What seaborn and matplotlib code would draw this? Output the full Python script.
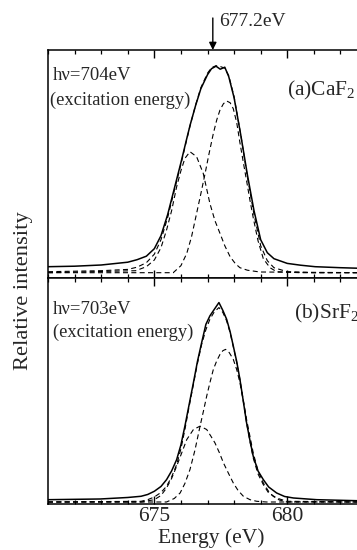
import numpy as np
import pandas as pd
import matplotlib
matplotlib.use("Agg")
import matplotlib.pyplot as plt
import seaborn as sns

# ---------------- data (arbitrary intensity units) ----------------
# (a) CaF2, hv = 704 eV
ca_meas_e = [671.0, 672.0, 673.0, 674.0, 674.35, 674.7, 675.0, 675.25, 675.5, 675.75, 676.0,
             676.2, 676.35, 676.55, 676.75, 677.0, 677.15, 677.32, 677.48, 677.65, 677.8,
             678.0, 678.25, 678.5, 678.75, 679.0, 679.25, 679.5, 680.0, 680.5, 681.05,
             682.0, 683.0]
ca_meas_i = [6.0, 6.5, 7.7, 10.5, 13.0, 16.5, 24.0, 37.0, 58.0, 84.0, 110.0,
             132.0, 148.0, 167.0, 184.0, 198.0, 204.0, 206.5, 203.5, 205.5, 196.0,
             175.0, 138.0, 98.0, 62.0, 33.0, 20.0, 14.0, 9.3, 7.5, 6.0,
             5.0, 4.2]
ca_fit_e = [671.0, 673.0, 674.0, 674.35, 674.7, 675.0, 675.25, 675.5, 675.75, 676.0, 676.2,
            676.35, 676.55, 676.75, 677.0, 677.15, 677.32, 677.5, 677.65, 677.8, 678.0,
            678.25, 678.5, 678.75, 679.0, 679.25, 679.5, 680.0, 681.0, 683.0]
ca_fit_i = [1.0, 2.0, 3.3, 5.5, 10.0, 18.5, 33.0, 55.0, 82.0, 108.5, 131.0,
            147.5, 167.5, 185.0, 199.5, 205.0, 207.0, 206.0, 204.5, 197.0, 176.0,
            138.0, 96.0, 58.0, 27.0, 12.0, 5.0, 1.0, 0.0, 0.0]
ca_c1_e = [671.0, 674.3, 674.7, 675.0, 675.25, 675.46, 675.65, 675.84, 676.0, 676.15, 676.34,
           676.59, 676.84, 677.09, 677.28, 677.47, 677.65, 677.85, 678.05, 678.22, 678.5,
           678.97, 683.0]
ca_c1_i = [0.0, 2.0, 6.0, 12.7, 25.0, 42.7, 62.0, 86.0, 102.0, 114.3, 121.0,
           116.0, 99.3, 69.3, 52.0, 39.3, 27.0, 16.0, 9.0, 5.0, 2.5,
           0.7, 0.0]
ca_c2_e = [671.0, 675.71, 676.0, 676.22, 676.4, 676.59, 676.75, 676.91, 677.05, 677.22, 677.35,
           677.47, 677.6, 677.72, 677.85, 677.97, 678.1, 678.22, 678.35, 678.47, 678.6,
           678.72, 678.9, 679.1, 679.35, 679.6, 680.48, 683.0]
ca_c2_i = [0.0, 0.0, 7.0, 19.3, 36.0, 59.3, 79.0, 99.3, 118.0, 139.3, 153.0,
           162.7, 169.0, 171.7, 170.0, 164.0, 150.0, 130.0, 110.0, 92.0, 72.0,
           55.0, 32.0, 14.0, 5.0, 1.0, 0.0, 0.0]

# (b) SrF2, hv = 703 eV
sr_meas_e = [671.0, 672.96, 674.0, 674.5, 674.75, 675.0, 675.25, 675.46, 675.65, 675.84, 676.0,
             676.15, 676.3, 676.47, 676.62, 676.78, 676.94, 677.09, 677.25, 677.43, 677.58,
             677.72, 677.85, 677.97, 678.1, 678.22, 678.35, 678.47, 678.6, 678.72, 678.9,
             679.1, 679.3, 679.6, 679.9, 680.23, 681.11, 682.61, 683.0]
sr_meas_i = [2.3, 3.0, 4.5, 5.7, 7.5, 10.7, 15.5, 22.3, 31.0, 42.3, 57.0,
             75.7, 96.0, 119.0, 140.0, 159.0, 177.3, 185.7, 192.0, 199.0, 191.0,
             182.3, 170.0, 155.7, 140.0, 122.3, 100.0, 79.0, 61.0, 45.7, 31.0,
             22.3, 15.0, 9.0, 5.5, 4.0, 2.3, 1.3, 1.3]
sr_fit_e = [671.0, 674.5, 674.75, 675.0, 675.25, 675.46, 675.65, 675.84, 676.0, 676.15, 676.3,
            676.47, 676.62, 676.78, 676.94, 677.09, 677.25, 677.43, 677.58, 677.72, 677.85,
            677.97, 678.1, 678.22, 678.35, 678.47, 678.6, 678.72, 678.9, 679.1, 679.3,
            679.6, 679.98, 683.0]
sr_fit_i = [0.0, 0.7, 2.3, 5.0, 9.5, 15.7, 25.0, 37.3, 53.0, 72.3, 94.0,
            117.3, 138.0, 157.3, 172.0, 182.3, 189.5, 194.0, 189.0, 180.7, 169.0,
            155.0, 139.0, 122.3, 100.0, 79.0, 60.0, 44.0, 28.0, 17.3, 9.0,
            4.0, 0.7, 0.0]
sr_c1_e = [671.0, 674.5, 675.0, 675.25, 675.46, 675.65, 675.84, 676.03, 676.22, 676.47, 676.72,
           676.97, 677.12, 677.28, 677.45, 677.6, 677.8, 677.97, 678.15, 678.35, 678.6,
           678.85, 679.22, 683.0]
sr_c1_i = [0.0, 0.0, 2.3, 6.5, 14.0, 23.5, 35.7, 49.0, 62.3, 72.3, 75.7,
           72.3, 66.0, 59.0, 49.0, 39.0, 28.0, 19.0, 11.5, 5.7, 2.3,
           0.7, 0.0, 0.0]
sr_c2_e = [671.0, 675.46, 675.75, 675.97, 676.15, 676.34, 676.53, 676.72, 676.85, 676.97, 677.1,
           677.22, 677.35, 677.47, 677.58, 677.68, 677.82, 677.97, 678.1, 678.22, 678.35,
           678.47, 678.6, 678.72, 678.9, 679.1, 679.3, 679.47, 679.7, 679.98, 683.0]
sr_c2_i = [0.0, 0.0, 3.5, 9.0, 18.5, 32.3, 52.0, 75.7, 91.0, 105.7, 120.0,
           132.3, 141.0, 147.3, 151.0, 152.3, 149.0, 142.3, 132.0, 119.0, 101.0,
           82.3, 65.0, 49.0, 31.0, 19.0, 10.5, 5.7, 2.0, 0.0, 0.0]

x_ticks = [675, 680]
x_tick_labels = ["675", "680"]
arrow_energy = 677.2

# ---------------- style ----------------
sns.set_style("ticks")
plt.rcParams["font.family"] = ["Liberation Serif", "DejaVu Serif"]
plt.rcParams["mathtext.fontset"] = "custom"
plt.rcParams["mathtext.rm"] = "Liberation Serif"
plt.rcParams["mathtext.it"] = "Liberation Serif:italic"

W, H = 357, 550
fig = plt.figure(figsize=(W / 100, H / 100), dpi=100)

def fx(px):
    return px / W

def fy(py):
    return 1 - py / H

left_px, right_px = 48, 367
ax_a = fig.add_axes([fx(left_px), fy(277.5), (right_px - left_px) / W, (277.5 - 50) / H])
ax_b = fig.add_axes([fx(left_px), fy(504), (right_px - left_px) / W, (504 - 277.5) / H])

def draw(ax, me, mi, fe, fi, c1e, c1i, c2e, c2i):
    sns.lineplot(x=me, y=mi, ax=ax, color="black", lw=1.1, estimator=None, sort=False)
    for e, i in [(fe, fi), (c1e, c1i), (c2e, c2i)]:
        sns.lineplot(x=e, y=i, ax=ax, color="black", lw=0.8, estimator=None, sort=False,
                     linestyle=(0, (4.5, 3)))

draw(ax_a, ca_meas_e, ca_meas_i, ca_fit_e, ca_fit_i, ca_c1_e, ca_c1_i, ca_c2_e, ca_c2_i)
draw(ax_b, sr_meas_e, sr_meas_i, sr_fit_e, sr_fit_i, sr_c1_e, sr_c1_i, sr_c2_e, sr_c2_i)

ax_a.set_ylim(-4.8, 222.7)
ax_b.set_ylim(-2.0, 224.0)

for ax in (ax_a, ax_b):
    ax.set_xlim(671, 683)
    ax.set_xticks(x_ticks)
    ax.set_xticks(np.arange(671, 684, 1), minor=True)
    ax.set_yticks([])
    ax.tick_params(axis="x", which="major", direction="in", top=True, bottom=True,
                   length=6, width=1.0, color="black")
    ax.tick_params(axis="x", which="minor", direction="in", top=True, bottom=True,
                   length=3, width=0.9, color="black")
    for s in ax.spines.values():
        s.set_linewidth(1.1)
        s.set_color("black")
    ax.set_xlabel("")
    ax.set_ylabel("")

ax_a.set_xticklabels([])
ax_b.set_xticklabels(x_tick_labels, fontsize=15.5)
ax_b.tick_params(axis="x", which="major", pad=2)

# texts
fig.text(fx(211), fy(538), "Energy (eV)", fontsize=15.5, ha="center", va="center")
fig.text(fx(24), fy(291), "Relative intensity", fontsize=16.2, ha="center", va="center",
         rotation=90)

fig.text(fx(53), fy(75), "h\u03bd=704eV", fontsize=13.5, ha="left", va="center")
fig.text(fx(50), fy(100), "(excitation energy)", fontsize=13.3, ha="left", va="center")
fig.text(fx(287), fy(90), "(a)CaF$_2$", fontsize=15.5, ha="left", va="center")

fig.text(fx(53), fy(310), "h\u03bd=703eV", fontsize=13.5, ha="left", va="center")
fig.text(fx(53), fy(332), "(excitation energy)", fontsize=13.3, ha="left", va="center")
fig.text(fx(294), fy(313), "(b)SrF$_2$", fontsize=15.5, ha="left", va="center")

# arrow at 677.2 eV
ax_a.annotate("", xy=(arrow_energy, 1.0), xycoords=("data", "axes fraction"),
              xytext=(arrow_energy, 1.0 + 32 / 227.5), textcoords=("data", "axes fraction"),
              arrowprops=dict(arrowstyle="-|>", color="black", lw=1.0, mutation_scale=11,
                              shrinkA=0, shrinkB=0))
fig.text(fx(219), fy(22), f"{arrow_energy}eV", fontsize=14, ha="left", va="center")

fig.savefig("out.png", dpi=100)
